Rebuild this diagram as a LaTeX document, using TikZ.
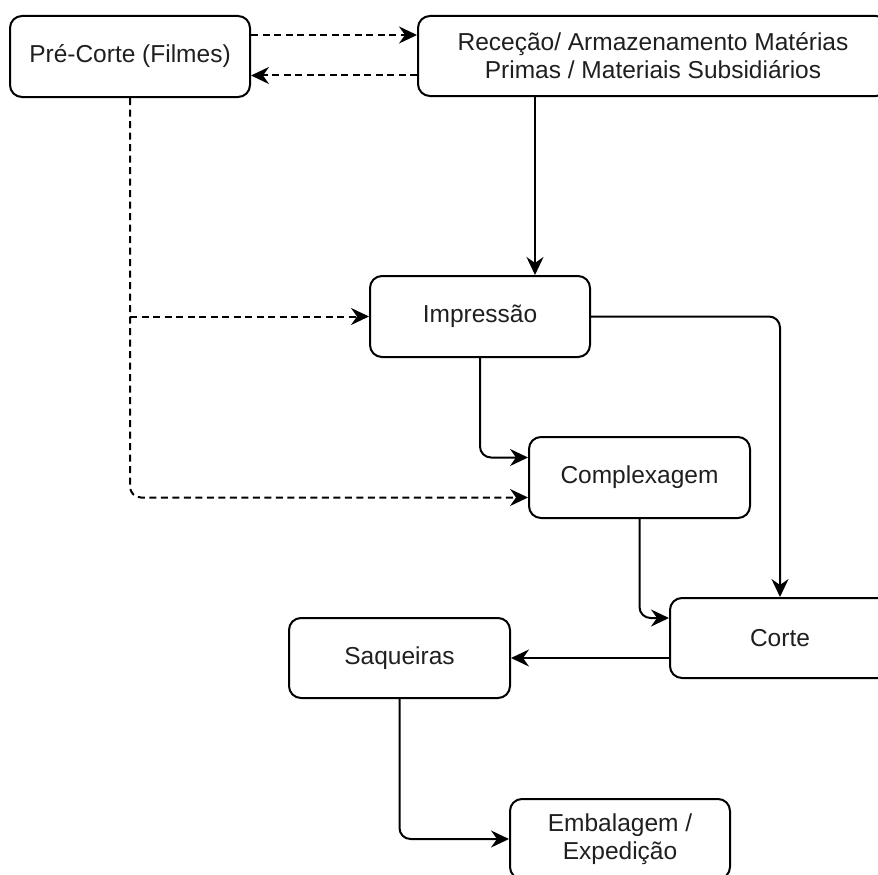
\documentclass[tikz,border=0pt]{standalone}
\usepackage{fontspec}
\setmainfont{Liberation Sans}
\usetikzlibrary{arrows.meta}
\begin{document}
\begin{tikzpicture}[x=1pt,y=-1pt,
  box/.style={draw, line width=2pt, rounded corners=12pt, inner sep=0pt,
    align=center, font=\fontsize{24.5}{28}\selectfont, text=black!88},
  arr/.style={line width=2pt, rounded corners=11pt,
    -{Stealth[length=18pt,width=17pt,inset=6pt]}},
  dsh/.style={arr, dash pattern=on 7pt off 4.5pt}]
\useasboundingbox (0,0) rectangle (878,875);
\clip (0,0) rectangle (878,875);

% process boxes
\node[box, minimum width=240pt, minimum height=81pt] (pre) at (130,56.5) {Pré-Corte (Filmes)};
\node[box, minimum width=470pt, minimum height=80pt] (rec) at (653,56)
  {Receção/ Armazenamento Matérias\\Primas / Materiais Subsidiários};
\node[box, minimum width=220pt, minimum height=81pt] (imp) at (480,316.5) {Impressão};
\node[box, minimum width=221pt, minimum height=81pt] (cmp) at (639.5,477.5) {Complexagem};
\node[box, minimum width=220pt, minimum height=80pt] (cor) at (780,638) {Corte};
\node[box, minimum width=221pt, minimum height=80pt] (saq) at (399.5,658) {Saqueiras};
\node[box, minimum width=220pt, minimum height=80pt] (emb) at (620,839) {Embalagem /\\Expedição};

% dashed exchanges with the pre-cut stage
\draw[dsh] ([yshift=21.5pt]pre.east) -- ([yshift=21.5pt]pre.east -| rec.west);
\draw[dsh] ([yshift=-19.5pt]rec.west) -- ([yshift=-19.5pt]rec.west -| pre.east);
\draw[dsh] (pre.south) |- ([yshift=-20pt]cmp.west);
\draw[dsh] (pre.south |- imp.west) -- (imp.west);

% main flow
\coordinate (impin) at ([xshift=55pt]imp.north);
\draw[arr] (rec.south -| impin) -- (impin);
\draw[arr] (imp.south) |- ([yshift=20pt]cmp.west);
\draw[arr] (imp.east) -| (cor.north);
\draw[arr] (cmp.south) |- ([yshift=20pt]cor.west);
\draw[arr] ([yshift=-20pt]cor.west) -- (saq.east);
\draw[arr] (saq.south) |- (emb.west);
\end{tikzpicture}
\end{document}
